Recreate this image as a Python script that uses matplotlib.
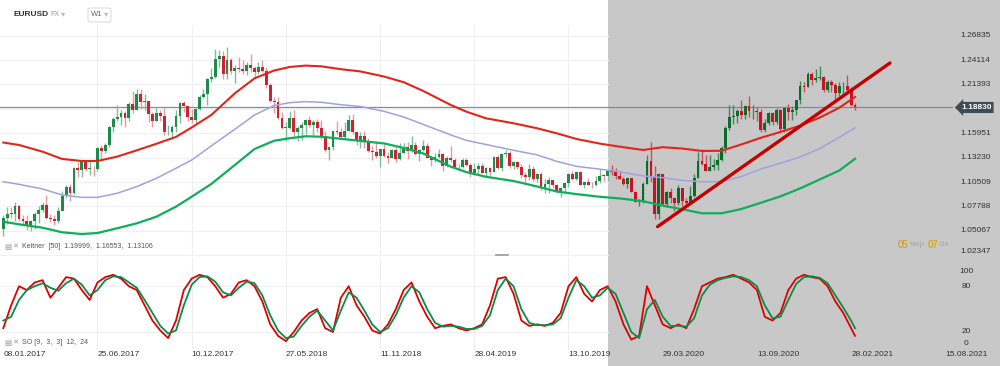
import matplotlib
matplotlib.use("Agg")
import matplotlib.pyplot as plt
import matplotlib.transforms as mtransforms
from matplotlib.patches import Rectangle, FancyBboxPatch
from matplotlib.lines import Line2D
import numpy as np

plt.rcParams['font.family'] = ['Liberation Sans', 'DejaVu Sans']

# ---- data (weekly EURUSD, week index 0 = 08.01.2017) ----
first_open = 1.0530
closes = [
    # 2017
    1.0645, 1.0700, 1.0696, 1.0784, 1.0638, 1.0616, 1.0560, 1.0620, 1.0698, 1.0738,
    1.0800, 1.0652, 1.0642, 1.0613, 1.0727, 1.0896, 1.0998, 1.0930, 1.1206, 1.1183,
    1.1282, 1.1196, 1.1197, 1.1195, 1.1426, 1.1400, 1.1470, 1.1666, 1.1749, 1.1773,
    1.1821, 1.1761, 1.1925, 1.1860, 1.2033, 1.1942, 1.1951, 1.1814, 1.1731, 1.1824,
    1.1784, 1.1607, 1.1608, 1.1665, 1.1792, 1.1933, 1.1895, 1.1774, 1.1745, 1.1862,
    1.2005, 1.2029,
    # 2018
    1.2200, 1.2222, 1.2425, 1.2459, 1.2252, 1.2407, 1.2295, 1.2318, 1.2308, 1.2289,
    1.2352, 1.2321, 1.2282, 1.2332, 1.2288, 1.2130, 1.1960, 1.1942, 1.1768, 1.1653,
    1.1658, 1.1768, 1.1608, 1.1656, 1.1685, 1.1747, 1.1686, 1.1719, 1.1657, 1.1568,
    1.1413, 1.1438, 1.1622, 1.1604, 1.1553, 1.1626, 1.1747, 1.1604, 1.1525, 1.1561,
    1.1511, 1.1401, 1.1389, 1.1337, 1.1417, 1.1340, 1.1316, 1.1406, 1.1306, 1.1372,
    1.1439, 1.1395,
    # 2019
    1.1466, 1.1366, 1.1411, 1.1455, 1.1325, 1.1295, 1.1333, 1.1367, 1.1232, 1.1325,
    1.1302, 1.1217, 1.1216, 1.1297, 1.1247, 1.1150, 1.1201, 1.1234, 1.1157, 1.1204,
    1.1169, 1.1334, 1.1211, 1.1369, 1.1370, 1.1225, 1.1270, 1.1219, 1.1127, 1.1108,
    1.1201, 1.1090, 1.1143, 1.0988, 1.1028, 1.1073, 1.1017, 1.0940, 1.0980, 1.1041,
    1.1142, 1.1081, 1.1165, 1.1018, 1.1050, 1.1021, 1.1016, 1.1059, 1.1122, 1.1121,
    1.1177, 1.1167,
    # 2020
    1.1120, 1.1090, 1.1026, 1.1093, 1.0944, 1.0830, 1.0846, 1.1026, 1.1283, 1.1106,
    1.0692, 1.1141, 1.0803, 1.0936, 1.0874, 1.0822, 1.0981, 1.0837, 1.0819, 1.0901,
    1.1101, 1.1290, 1.1255, 1.1179, 1.1219, 1.1247, 1.1301, 1.1428, 1.1656, 1.1778,
    1.1787, 1.1842, 1.1798, 1.1904, 1.1839, 1.1845, 1.1838, 1.1631, 1.1714, 1.1827,
    1.1716, 1.1860, 1.1646, 1.1876, 1.1834, 1.1857, 1.1961, 1.2120, 1.2109, 1.2255,
    1.2188, 1.2216,
    # 2021
    1.2220, 1.2079, 1.2169, 1.2137, 1.2045, 1.2118, 1.2119, 1.2075, 1.1913, 1.1883,
]
highs = [
    1.0685, 1.0775, 1.0775, 1.0830, 1.0800, 1.0680, 1.0680, 1.0630, 1.0715, 1.0780,
    1.0825, 1.0905, 1.0700, 1.0680, 1.0775, 1.0950, 1.1020, 1.1025, 1.1215, 1.1270,
    1.1285, 1.1295, 1.1295, 1.1225, 1.1445, 1.1460, 1.1490, 1.1680, 1.1775, 1.1910,
    1.1850, 1.1845, 1.1940, 1.2070, 1.2090, 1.2090, 1.2035, 1.1960, 1.1830, 1.1880,
    1.1860, 1.1880, 1.1690, 1.1690, 1.1860, 1.1940, 1.1960, 1.1890, 1.1865, 1.1880,
    1.2020, 1.2090,
    1.2215, 1.2325, 1.2537, 1.2520, 1.2510, 1.2555, 1.2440, 1.2355, 1.2445, 1.2410,
    1.2390, 1.2475, 1.2345, 1.2395, 1.2415, 1.2335, 1.2155, 1.1995, 1.1995, 1.1830,
    1.1725, 1.1840, 1.1850, 1.1675, 1.1720, 1.1755, 1.1790, 1.1745, 1.1750, 1.1745,
    1.1620, 1.1445, 1.1625, 1.1735, 1.1650, 1.1720, 1.1800, 1.1815, 1.1610, 1.1610,
    1.1620, 1.1545, 1.1455, 1.1500, 1.1425, 1.1475, 1.1390, 1.1420, 1.1445, 1.1485,
    1.1485, 1.1495,
    1.1570, 1.1500, 1.1415, 1.1515, 1.1490, 1.1345, 1.1370, 1.1420, 1.1375, 1.1345,
    1.1450, 1.1325, 1.1255, 1.1325, 1.1325, 1.1265, 1.1265, 1.1265, 1.1265, 1.1215,
    1.1215, 1.1345, 1.1350, 1.1380, 1.1410, 1.1395, 1.1285, 1.1285, 1.1255, 1.1160,
    1.1250, 1.1230, 1.1150, 1.1165, 1.1085, 1.1110, 1.1075, 1.1025, 1.1000, 1.1050,
    1.1150, 1.1180, 1.1175, 1.1180, 1.1055, 1.1095, 1.1055, 1.1115, 1.1200, 1.1145,
    1.1185, 1.1240,
    1.1205, 1.1175, 1.1110, 1.1095, 1.1095, 1.0955, 1.0865, 1.1055, 1.1355, 1.1495,
    1.1235, 1.1150, 1.1145, 1.0950, 1.0990, 1.0890, 1.1020, 1.0990, 1.0875, 1.1010,
    1.1145, 1.1385, 1.1425, 1.1350, 1.1350, 1.1305, 1.1370, 1.1455, 1.1680, 1.1910,
    1.1915, 1.1870, 1.1965, 1.1910, 1.2010, 1.1915, 1.1885, 1.1870, 1.1750, 1.1835,
    1.1830, 1.1880, 1.1870, 1.1890, 1.1920, 1.1895, 1.1965, 1.2175, 1.2165, 1.2275,
    1.2275, 1.2310,
    1.2350, 1.2235, 1.2190, 1.2190, 1.2155, 1.2170, 1.2170, 1.2245, 1.2115, 1.1935,
]
lows = [
    1.0455, 1.0580, 1.0655, 1.0620, 1.0620, 1.0570, 1.0520, 1.0500, 1.0525, 1.0600,
    1.0720, 1.0640, 1.0605, 1.0570, 1.0600, 1.0820, 1.0875, 1.0840, 1.0920, 1.1110,
    1.1110, 1.1170, 1.1130, 1.1120, 1.1175, 1.1310, 1.1370, 1.1440, 1.1610, 1.1730,
    1.1690, 1.1660, 1.1735, 1.1825, 1.1860, 1.1870, 1.1860, 1.1720, 1.1670, 1.1730,
    1.1730, 1.1575, 1.1575, 1.1555, 1.1610, 1.1715, 1.1835, 1.1730, 1.1715, 1.1715,
    1.1860, 1.1990,
    1.1915, 1.2165, 1.2215, 1.2335, 1.2205, 1.2205, 1.2260, 1.2155, 1.2275, 1.2260,
    1.2240, 1.2280, 1.2215, 1.2255, 1.2280, 1.2100, 1.1940, 1.1825, 1.1760, 1.1645,
    1.1510, 1.1645, 1.1540, 1.1510, 1.1525, 1.1590, 1.1665, 1.1575, 1.1615, 1.1530,
    1.1385, 1.1300, 1.1405, 1.1590, 1.1525, 1.1530, 1.1620, 1.1590, 1.1460, 1.1435,
    1.1430, 1.1390, 1.1300, 1.1320, 1.1215, 1.1335, 1.1265, 1.1320, 1.1270, 1.1300,
    1.1370, 1.1310,
    1.1390, 1.1355, 1.1290, 1.1395, 1.1320, 1.1235, 1.1275, 1.1325, 1.1175, 1.1215,
    1.1275, 1.1210, 1.1185, 1.1205, 1.1225, 1.1110, 1.1135, 1.1135, 1.1155, 1.1105,
    1.1115, 1.1160, 1.1200, 1.1180, 1.1335, 1.1205, 1.1195, 1.1200, 1.1100, 1.1025,
    1.1070, 1.1065, 1.1050, 1.0965, 1.0925, 1.0925, 1.0990, 1.0925, 1.0880, 1.0940,
    1.0995, 1.1075, 1.1070, 1.1015, 1.0990, 1.1015, 1.0980, 1.1005, 1.1040, 1.1065,
    1.1065, 1.1125,
    1.1085, 1.1085, 1.1020, 1.0990, 1.0940, 1.0830, 1.0780, 1.0815, 1.1030, 1.1055,
    1.0635, 1.0640, 1.0780, 1.0770, 1.0815, 1.0730, 1.0790, 1.0780, 1.0775, 1.0865,
    1.0880, 1.1095, 1.1240, 1.1170, 1.1170, 1.1190, 1.1185, 1.1290, 1.1375, 1.1635,
    1.1695, 1.1710, 1.1755, 1.1755, 1.1780, 1.1750, 1.1735, 1.1610, 1.1610, 1.1690,
    1.1685, 1.1700, 1.1620, 1.1605, 1.1745, 1.1745, 1.1800, 1.1925, 1.2060, 1.2110,
    1.2130, 1.2165,
    1.2195, 1.2055, 1.2055, 1.2060, 1.1950, 1.2010, 1.2025, 1.2060, 1.1895, 1.1860,
]

# Keltner [50] bands, read at sample weeks
band_idx = [0, 4, 10, 15, 20, 24, 29, 34, 39, 44, 48, 53, 59, 64, 69, 73, 77, 81, 86, 91,
            97, 102, 107, 114, 118, 123, 130, 136, 141, 146, 152, 157, 163, 168, 173, 178,
            183, 188, 193, 198, 203, 208, 213, 217]
kelt_upper = [1.1492, 1.1465, 1.1390, 1.1309, 1.1286, 1.1286, 1.1335, 1.1405, 1.1478, 1.1555,
              1.1660, 1.1800, 1.2041, 1.2208, 1.2295, 1.2335, 1.2350, 1.2342, 1.2310, 1.2285,
              1.2228, 1.2165, 1.2067, 1.1911, 1.1836, 1.1762, 1.1707, 1.1651, 1.1595, 1.1532,
              1.1480, 1.1446, 1.1409, 1.1440, 1.1425, 1.1398, 1.1400, 1.1470, 1.1545, 1.1610,
              1.1680, 1.1770, 1.1880, 1.19999]
kelt_mid = [1.1055, 1.1026, 1.0974, 1.0907, 1.0881, 1.0881, 1.0926, 1.1000, 1.1093, 1.1205,
            1.1297, 1.1455, 1.1640, 1.1799, 1.1905, 1.1937, 1.1948, 1.1941, 1.1914, 1.1894,
            1.1840, 1.1777, 1.1694, 1.1577, 1.1516, 1.1470, 1.1405, 1.1355, 1.1282, 1.1227,
            1.1195, 1.1166, 1.1120, 1.1100, 1.1070, 1.1055, 1.1055, 1.1112, 1.1197, 1.1261,
            1.1331, 1.1425, 1.1550, 1.16553]
kelt_lower = [1.0609, 1.0580, 1.0542, 1.0491, 1.0472, 1.0483, 1.0536, 1.0591, 1.0665, 1.0777,
              1.0888, 1.1030, 1.1242, 1.1420, 1.1512, 1.1540, 1.1562, 1.1557, 1.1534, 1.1510,
              1.1482, 1.1432, 1.1370, 1.1223, 1.1162, 1.1110, 1.1063, 1.1002, 1.0946, 1.0917,
              1.0887, 1.0869, 1.0838, 1.0788, 1.0748, 1.0703, 1.0703, 1.0750, 1.0820, 1.0892,
              1.0980, 1.1080, 1.1180, 1.13106]

# Stochastic SO [9,3,3], read every second week
so_idx = list(range(0, 217, 2)) + [217]
so_k = [25, 55, 80, 75, 85, 88, 65, 78, 92, 90, 75, 62, 85, 92, 95, 90, 80, 75, 55, 35,
        22, 12, 35, 75, 90, 95, 92, 80, 65, 70, 85, 88, 80, 60, 30, 15, 8, 20, 35, 45,
        50, 25, 20, 65, 80, 55, 40, 22, 18, 30, 50, 75, 85, 60, 40, 25, 28, 30, 25, 22,
        25, 30, 55, 90, 92, 70, 35, 28, 30, 28, 32, 45, 80, 92, 70, 60, 75, 80, 60, 30,
        10, 15, 80, 55, 30, 25, 30, 25, 50, 80, 85, 90, 92, 95, 90, 85, 75, 40, 35, 45,
        75, 90, 95, 92, 90, 80, 60, 45, 25, 15]
so_d = [35, 40, 62, 75, 80, 84, 78, 74, 84, 90, 82, 68, 75, 88, 93, 92, 85, 78, 62, 45,
        28, 18, 22, 55, 82, 92, 93, 86, 72, 68, 78, 86, 84, 68, 42, 22, 12, 14, 28, 40,
        48, 35, 22, 48, 72, 65, 48, 30, 20, 25, 42, 65, 80, 72, 50, 32, 27, 28, 27, 24,
        24, 28, 42, 75, 90, 80, 50, 32, 29, 29, 30, 38, 65, 88, 80, 65, 68, 78, 70, 45,
        20, 12, 50, 62, 40, 28, 28, 27, 38, 68, 82, 88, 91, 93, 92, 88, 80, 55, 38, 40,
        62, 83, 92, 93, 91, 84, 68, 52, 35, 25]

trend_x = [166.7, 225.9]
trend_y = [1.0554, 1.2379]

last_price = 1.18830
price_ticks = [1.02347, 1.05067, 1.07788, 1.10509, 1.13230, 1.15951, 1.21393, 1.24114, 1.26835]
price_labels = ['1.02347', '1.05067', '1.07788', '1.10509', '1.13230', '1.15951',
                '1.21393', '1.24114', '1.26835']
so_ticks = [100, 80, 20, 0]
date_idx = [0, 24, 48, 72, 96, 120, 144, 168, 192, 216, 240]
date_labels = ['08.01.2017', '25.06.2017', '10.12.2017', '27.05.2018', '11.11.2018',
               '28.04.2019', '13.10.2019', '29.03.2020', '13.09.2020', '28.02.2021',
               '15.08.2021']
shade_from = 154.1   # grey area starts (week index)

# ---- figure ----
W, H = 1000, 366
fig = plt.figure(figsize=(10, 3.66), dpi=100)
fig.patch.set_facecolor('white')
fig.patches.append(Rectangle((608 / W, 0), 1 - 608 / W, 1, transform=fig.transFigure,
                             facecolor='#c8c8c8', edgecolor='none', zorder=-5))

def px_axes(top, bottom):
    return fig.add_axes([0, (H - bottom) / H, 1, (bottom - top) / H])

ax = px_axes(25, 256)
ax2 = px_axes(258, 350)
xlim = (-3.3 / 3.925, (W - 3.3) / 3.925)
for a in (ax, ax2):
    a.set_facecolor('none')
    a.set_xlim(*xlim)
    for s in a.spines.values():
        s.set_visible(False)
    a.set_xticks([])
    a.set_yticks([])
    for d in date_idx:
        if 0 < d < shade_from:
            a.axvline(d, color='#eeeeee', lw=0.8, zorder=0.2)
ax.set_ylim(1.02267, 1.28028)
ax2.set_ylim(-3.61, 117.05)

# horizontal grid (white area only)
xfrac = 608 / W
for p in price_ticks + [1.18672]:
    ax.axhline(p, xmax=xfrac, color='#f0f0f0', lw=0.8, zorder=0.2)
for v in (20, 80):
    ax2.axhline(v, xmax=xfrac, color='#f0f0f0', lw=0.8, zorder=0.2)

# current price line
ax.axhline(last_price, xmax=952 / W, color='#7f8c95', lw=0.9, zorder=1)

# candles
x = np.arange(len(closes))
c = np.array(closes)
o = np.concatenate([[first_open], c[:-1]])
hi = np.array(highs)
lo = np.array(lows)
up = c >= o
in_grey = x >= shade_from
green = np.where(in_grey, '#0b6b2c', '#1f8a4c')
red = np.where(in_grey, '#cc1020', '#d0222e')
col = np.where(up, green, red)
wick = np.where(up, np.where(in_grey, '#3f8a58', '#7fbf98'), np.where(in_grey, '#d0505a', '#e49aa0'))
ax.vlines(x, lo, hi, colors=wick, lw=1.0, zorder=2)
body = np.maximum(np.abs(c - o), 0.0007)
ax.bar(x, body, bottom=np.minimum(o, c), width=0.72, color=col, linewidth=0, zorder=3)

# keltner
ax.plot(band_idx, kelt_upper, color='#e3241b', lw=1.5, zorder=4)
ax.plot(band_idx, kelt_mid, color='#9ea3df', lw=1.1, zorder=4)
ax.plot(band_idx, kelt_lower, color='#0fae5c', lw=1.6, zorder=4)

# trend line
ax.plot(trend_x, trend_y, color='#c40000', lw=2.4, solid_capstyle='round', zorder=5)

# price labels
tr = mtransforms.blended_transform_factory(ax.transAxes, ax.transData)
for p, lab in zip(price_ticks, price_labels):
    ax.text(960 / W, p, lab, transform=tr, ha='left', va='bottom' if p < 1.03 else 'center',
            fontsize=6, color='#333333', zorder=6)
ax.text(961 / W, last_price, '1.18830', transform=tr, ha='left', va='center', fontsize=6,
        fontweight='bold', color='white', zorder=7,
        bbox=dict(boxstyle='larrow,pad=0.25', fc='#3e4c57', ec='none'))

# stochastic
ax2.plot(so_idx, so_k, color='#e00000', lw=1.3, zorder=4)
ax2.plot(so_idx, so_d, color='#0b8a4a', lw=1.3, zorder=4)
tr2 = mtransforms.blended_transform_factory(ax2.transAxes, ax2.transData)
for v in so_ticks:
    ax2.text(966 / W, v, str(v), transform=tr2, ha='center',
             va='bottom' if v == 0 else 'center', fontsize=6, color='#333333')

# date labels
trd = mtransforms.blended_transform_factory(ax2.transData, ax2.transAxes)
for d, lab in zip(date_idx, date_labels):
    ax2.text(d, -5 / 92, lab, transform=trd, ha='left', va='center', fontsize=6,
             color='#333333', clip_on=False)

# indicator captions
def ftext(xp, yp, s, **kw):
    fig.text(xp / W, 1 - yp / H, s, va='center', **kw)

ftext(4, 246, '▤', fontsize=5.5, color='#999999', family='DejaVu Sans')
ftext(12, 246, '✕', fontsize=5, color='#999999', family='DejaVu Sans')
ftext(22, 246, 'Keltner  [50]  1.19999,  1.16553,  1.13106', fontsize=5, color='#555555')
ftext(4, 343, '▤', fontsize=5.5, color='#999999', family='DejaVu Sans')
ftext(12, 343, '✕', fontsize=5, color='#999999', family='DejaVu Sans')
ftext(22, 343, 'SO [9,  3,  3]  12,  24', fontsize=5, color='#555555')

ftext(898, 245, '05', fontsize=7, color='#d79b00')
ftext(909, 245, 'мар', fontsize=6, color='#a8a8a8')
ftext(928, 245, '07', fontsize=7, color='#d79b00')
ftext(939, 245, 'сiа', fontsize=6, color='#a8a8a8')

# header
ftext(13, 15, 'EURUSD', fontsize=6, fontweight='bold', color='#333333')
ftext(50, 15, 'FX', fontsize=5, color='#999999')
ftext(61, 14, '▾', fontsize=6, color='#bbbbbb', family='DejaVu Sans')
fig.patches.append(FancyBboxPatch((88 / W, 1 - 22 / H), 23 / W, 14 / H,
                                  boxstyle='round,pad=0,rounding_size=0.004',
                                  transform=fig.transFigure, fc='white', ec='#dddddd', lw=0.8))
ftext(91, 15, 'W1', fontsize=5.5, color='#666666')
ftext(104, 14, '▾', fontsize=6, color='#bbbbbb', family='DejaVu Sans')

fig.add_artist(Line2D([496 / W, 508 / W], [1 - 255 / H] * 2, color='#999999', lw=1.2))

fig.savefig('out.png', dpi=100)
